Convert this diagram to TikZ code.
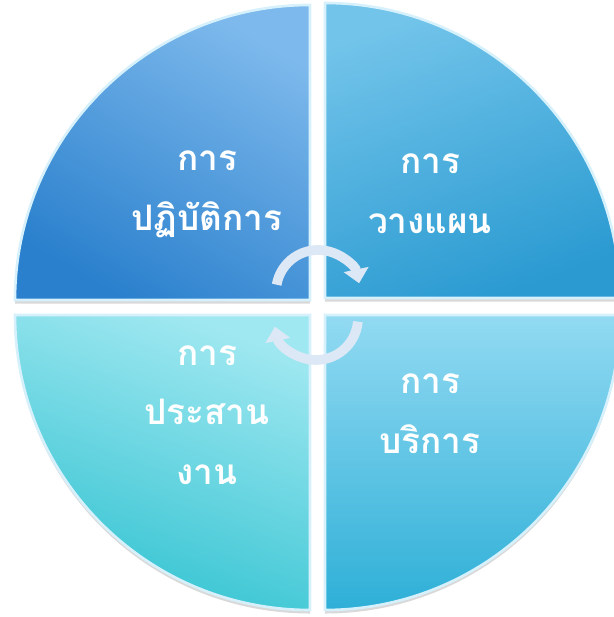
\documentclass[tikz,border=0pt]{standalone}
\usepackage{fontspec}
\newfontfamily\thaifont[Script=Thai]{Loma}
\usetikzlibrary{arrows.meta, shadows}

\definecolor{opLight}{HTML}{7DB9EC}
\definecolor{opMid}{HTML}{4E9FE2}
\definecolor{opDark}{HTML}{2A80CD}
\definecolor{planLight}{HTML}{72C4EA}
\definecolor{planMid}{HTML}{4AB1E0}
\definecolor{planDark}{HTML}{2A9AD1}
\definecolor{coLight}{HTML}{A0E8F1}
\definecolor{coMid}{HTML}{6CD6E4}
\definecolor{coDark}{HTML}{33C3D1}
\definecolor{servLight}{HTML}{92DAF2}
\definecolor{servMid}{HTML}{5CC6E6}
\definecolor{servDark}{HTML}{2EAFD7}
\definecolor{rimBlue}{HTML}{D6F1FB}
\definecolor{arrowBlue}{HTML}{DCE8F5}

\begin{document}
\begin{tikzpicture}[x=0.02cm, y=0.02cm, >={Triangle[width=14pt,length=8pt]},
    quarter/.style={draw=rimBlue, line width=1.5pt,
      drop shadow={shadow xshift=0pt, shadow yshift=-2pt, opacity=0.3}},
    qtext/.style={text=white, font=\thaifont\bfseries\fontsize{20}{34}\selectfont, align=center},
    turn/.style={->, line width=5.5pt, draw=arrowBlue}]
  \useasboundingbox (0,0) rectangle (613,617);

  % four quarters
  \draw[quarter, top color=opLight, middle color=opMid, bottom color=opDark, shading angle=-30]
    (310,317) -- ++(-295,0) arc (180:90:295) -- cycle;
  \draw[quarter, top color=planLight, middle color=planMid, bottom color=planDark, shading angle=20]
    (325,319) -- ++(0,295) arc (90:0:295) -- cycle;
  \draw[quarter, top color=coLight, middle color=coMid, bottom color=coDark, shading angle=-20]
    (310,302) -- ++(-295,0) arc (180:270:295) -- cycle;
  \draw[quarter, top color=servLight, middle color=servMid, bottom color=servDark]
    (325,302) -- ++(0,-295) arc (270:360:295) -- cycle;

  % labels
  \node[qtext] (oper) at (207,423) {การ\\ปฏิบัติการ};
  \node[qtext] (plan) at (430,423) {การ\\วางแผน};
  \node[qtext] (coord) at (207,202) {การ\\ประสาน\\งาน};
  \node[qtext] (serv) at (430,203) {การ\\บริการ};

  % cycle arrows in the middle
  \coordinate (upper) at (318,325);
  \coordinate (lower) at (316,299);
  \draw[turn] ([shift={(170:42)}]upper) arc (170:12:42);
  \draw[turn] ([shift={(-5:42)}]lower) arc (-5:-168:42);
\end{tikzpicture}
\end{document}
